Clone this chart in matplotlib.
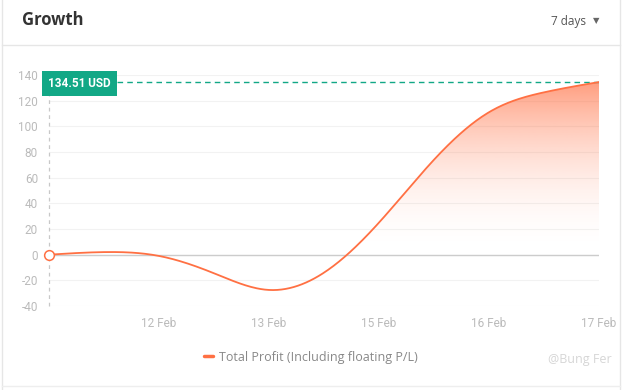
import numpy as np
import matplotlib
matplotlib.use("Agg")
import matplotlib.pyplot as plt
from matplotlib.patches import Polygon

# data (category axis, labels on every other point)
x_labels = ["", "", "12 Feb", "", "13 Feb", "", "15 Feb", "", "16 Feb", "", "17 Feb"]
profit = [0, 2, -1, -14.5, -27.5, -14, 25, 74, 111, 126.5, 134.51]
y_ticks = [-40, -20, 0, 20, 40, 60, 80, 100, 120, 140]
last_label = "134.51 USD"

LINE = "#ff7043"
GREEN = "#12a886"
TICK = "#bbbbbb"


def smooth(xs, ys, n=40):
    # natural cubic spline through the points (render-only smoothing)
    xs = np.asarray(xs, float)
    ys = np.asarray(ys, float)
    k = len(xs)
    h = np.diff(xs)
    A = np.zeros((k, k))
    b = np.zeros(k)
    A[0, 0] = A[-1, -1] = 1
    for i in range(1, k - 1):
        A[i, i - 1] = h[i - 1]
        A[i, i] = 2 * (h[i - 1] + h[i])
        A[i, i + 1] = h[i]
        b[i] = 6 * ((ys[i + 1] - ys[i]) / h[i] - (ys[i] - ys[i - 1]) / h[i - 1])
    M = np.linalg.solve(A, b)
    out_x, out_y = [], []
    for i in range(k - 1):
        t = np.linspace(xs[i], xs[i + 1], n, endpoint=False)
        a = xs[i + 1] - t
        c = t - xs[i]
        y = (M[i] * a**3 + M[i + 1] * c**3) / (6 * h[i]) \
            + (ys[i] / h[i] - M[i] * h[i] / 6) * a \
            + (ys[i + 1] / h[i] - M[i + 1] * h[i] / 6) * c
        out_x.append(t)
        out_y.append(y)
    out_x.append([xs[-1]])
    out_y.append([ys[-1]])
    return np.concatenate(out_x), np.concatenate(out_y)


fig = plt.figure(figsize=(6.22, 3.9), dpi=100)
W, H = 622, 390

# card frame
fig.add_artist(plt.Line2D([2 / W, 2 / W], [0, 1], color="#e6e6e6", lw=1))
fig.add_artist(plt.Line2D([620 / W, 620 / W], [0, 1], color="#e6e6e6", lw=1))
fig.add_artist(plt.Line2D([2 / W, 620 / W], [1 - 45 / H, 1 - 45 / H], color="#e6e6e6", lw=1))
fig.add_artist(plt.Line2D([2 / W, 620 / W], [1 - 386 / H, 1 - 386 / H], color="#eeeeee", lw=1))

fig.text(22 / W, 1 - 20 / H, "Growth", fontsize=12, fontweight="bold", color="#333333",
         family="Open Sans", va="center", ha="left")
fig.text(586 / W, 1 - 22 / H, "7 days", fontsize=8.5, color="#555555",
         family="Open Sans", va="center", ha="right")
fig.text(596 / W, 1 - 21 / H, "▼", fontsize=6, color="#666666", va="center", ha="center")

ax = fig.add_axes([49 / W, 1 - 306 / H, 550 / W, 231 / H])
x = np.arange(len(profit))
ax.set_xlim(0, len(profit) - 1)
ax.set_ylim(-40, 140)

sx, sy = smooth(x, profit)

# gradient fill under the curve
grad_v = np.linspace(140, -40, 400)
t = np.clip(grad_v / max(profit), 0, 1)
rgba = np.zeros((400, 1, 4))
rgba[..., 0] = 1.0
rgba[..., 1] = 112 / 255
rgba[..., 2] = 67 / 255
rgba[..., 3] = (0.68 * t**2)[:, None]
img = ax.imshow(rgba, extent=[0, len(profit) - 1, -40, 140], aspect="auto",
                origin="upper", zorder=1)
poly = Polygon(np.column_stack([np.r_[sx, sx[-1], sx[0]], np.r_[sy, 0, 0]]),
               closed=True, transform=ax.transData, facecolor="none", edgecolor="none")
ax.add_patch(poly)
img.set_clip_path(poly)

ax.plot(sx, sy, color=LINE, lw=1.3, zorder=3, label="Total Profit (Including floating P/L)",
        solid_capstyle="round")
ax.plot([0], [profit[0]], "o", ms=7, mfc="white", mec=LINE, mew=1.1, zorder=4, clip_on=False)

# grid
for v in y_ticks:
    ax.axhline(v, color="#f2f2f2", lw=0.8, zorder=0)
ax.axhline(0, color="#cccccc", lw=1, zorder=2)

# marker lines for last value
ax.plot([0, 0], [-40, 140], color="#c8c8c8", lw=0.9, ls=(0, (3, 3)), zorder=2, clip_on=False)
ax.axhline(profit[-1], color=GREEN, lw=1, ls=(0, (4, 3)), zorder=2)
ax.annotate(last_label, xy=(0, profit[-1]), xytext=(-0.5, -1.2), textcoords="offset points",
            ha="left", va="center", fontsize=8.5, fontweight="bold", color="white",
            family="Roboto", zorder=6, annotation_clip=False,
            bbox=dict(boxstyle="square,pad=0.5", fc=GREEN, ec="none"))

ax.set_yticks(y_ticks)
ax.set_yticklabels([str(v) for v in y_ticks])
ax.set_xticks(x)
ax.set_xticklabels(x_labels)
ax.tick_params(axis="both", length=0, colors=TICK, labelsize=8.5)
ax.tick_params(axis="y", pad=8)
ax.tick_params(axis="x", pad=8)
for lab in ax.get_xticklabels() + ax.get_yticklabels():
    lab.set_family("Roboto")
for s in ax.spines.values():
    s.set_visible(False)
ax.set_facecolor("none")

leg = fig.legend(loc="center", bbox_to_anchor=(0.5 - 0.0, 1 - 357 / H), frameon=False,
                 handlelength=0.7, handletextpad=0.5,
                 prop={"family": "Open Sans", "size": 9})
leg.get_lines()[0].set_linewidth(2.5)
for txt in leg.get_texts():
    txt.set_color("#888888")

fig.text(612 / W, 1 - 360 / H, "@Bung Fer", fontsize=9, color="#d6d6d6",
         family="Open Sans", va="center", ha="right")

fig.savefig("out.png", dpi=100)
